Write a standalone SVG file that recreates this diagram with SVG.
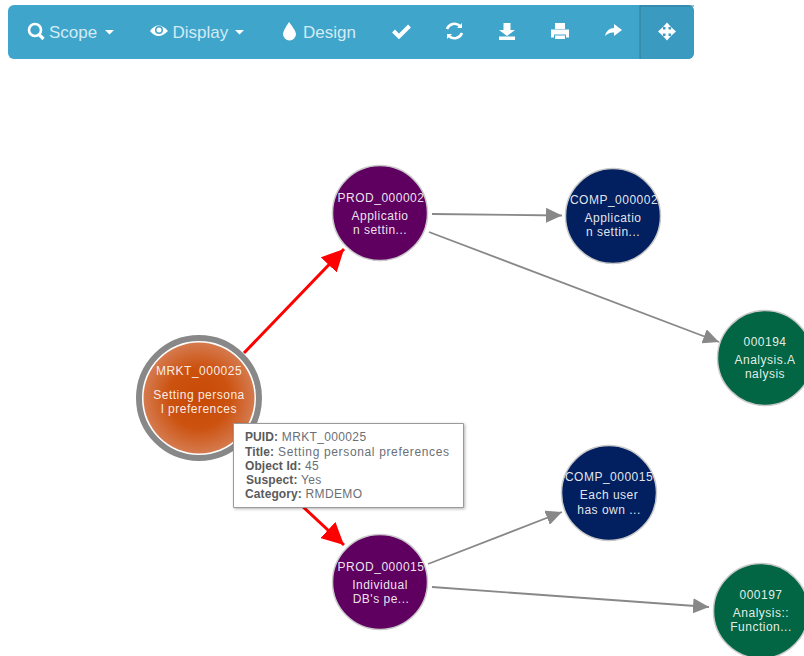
<svg xmlns="http://www.w3.org/2000/svg" width="804" height="656" viewBox="0 0 804 656">
<style>
text{font-family:"Liberation Sans",Arial,sans-serif}
.n text{fill:#fff;font-size:12px;letter-spacing:.5px;text-anchor:middle;fill-opacity:.9}
.n circle.c{stroke:#c9c9c9;stroke-width:1.5}
.t{fill:#d3ebf5;font-size:17px}
.i{fill:#fff}
.s{fill:none;stroke:#fff;stroke-width:2.6}
.g{fill:none;stroke:#888;stroke-width:1.8}
.r{fill:none;stroke:#f00;stroke-width:3}
.tip text{font-size:12px;fill:#6b6f76;letter-spacing:.35px}
.tip tspan{font-weight:bold;fill:#5a5a5a;letter-spacing:.1px}
</style>
<defs>
<radialGradient id="og"><stop offset="0" stop-color="#c84a04"/><stop offset=".55" stop-color="#cc5210"/><stop offset="1" stop-color="#d57a4e"/></radialGradient>
<marker id="ga" markerUnits="userSpaceOnUse" markerWidth="17" markerHeight="15" refX="16" refY="7.500" orient="auto"><path d="M0 0L16 7.500L0 15L0 0Z" fill="#888"/></marker>
<marker id="ra" markerUnits="userSpaceOnUse" markerWidth="23" markerHeight="22" refX="22" refY="11" orient="auto"><path d="M0 0L22 11L0 22L0 0Z" fill="#f00"/></marker>
<filter id="sh" x="-5%" y="-5%" width="112%" height="115%"><feDropShadow dx="1" dy="1" stdDeviation="1.500" flood-color="#000" flood-opacity=".3"/></filter>
<clipPath id="ab"><rect x="8" y="5" width="686" height="54" rx="6"/></clipPath>
</defs>
<g id="toolbar">
<rect x="8" y="5" width="686" height="54" rx="6" fill="#3fa5cb"/>
<rect x="640" y="5" width="54" height="54" fill="#3b9abf" clip-path="url(#ab)"/>
<path d="M640 5V59" stroke="#33809e" stroke-width="1.500" opacity=".7"/>
<path d="M640 6H694" stroke="#33809e" stroke-width="2" opacity=".5"/>
<g id="btn-scope"><circle cx="35" cy="30" r="6" class="s"/><path d="M39 34.500L43.500 39" stroke="#fff" stroke-width="3.200" fill="none"/><text class="t" x="49" y="38">Scope</text><path d="M105 30h9l-4.500 4.500z" class="i"/></g>
<g id="btn-display"><path d="M150 31Q158 20 168 31Q158 41 150 31Z" class="i"/><circle cx="159" cy="30" r="4" fill="#3fa5cb"/><circle cx="159" cy="30" r="2.500" class="i"/><text class="t" x="172.500" y="38">Display</text><path d="M235 30h9l-4.500 4.500z" class="i"/></g>
<g id="btn-design"><path d="M289 22Q283 31 283 34A6 6 0 0 0 296 34Q296 31 289 22Z" class="i"/><text class="t" x="303" y="38">Design</text></g>
<g id="btn-check"><path d="M393.500 31L399 36.500L409.500 26" fill="none" stroke="#fff" stroke-width="4"/></g>
<g id="btn-refresh"><path d="M447 29A8 8 0 0 1 460 26M462 33A8 8 0 0 1 449 36" class="s"/><path d="M457 28l5-5v5zM452 34l-5 5v-5z" class="i"/></g>
<g id="btn-download"><path d="M503.500 23h7v7h4.500l-8 6-8-6h4.500zM499 36.500h16v3.500h-16z" class="i"/></g>
<g id="btn-print"><path d="M555 23h10v6h-10zM551 29.500h18v8h-3v-3h-12v3h-3zM555 35.500h10v3.500h-10z" class="i"/></g>
<g id="btn-share"><path d="M605 36Q607 28 614 28V24L622 30L614 36V32.500Q609 32 605 36Z" class="i"/></g>
<g id="btn-move"><path d="M667 22.500l4 4.500h-2.500v2.500h2.500v-2.500l5 4.500-5 4.500v-2.500h-2.500v2.500h2.500l-4 4.500-4-4.500h2.500v-2.500h-2.500v2.500l-5-4.500 5-4.500v2.500h2.500v-2.500h-2.500z" class="i"/></g>
</g>
<g id="connectors">
<path class="r" d="M244 353L344 249" marker-end="url(#ra)"/>
<path class="r" d="M300 504L344 545" marker-end="url(#ra)"/>
<path class="g" d="M432 214L562 215.500" marker-end="url(#ga)"/>
<path class="g" d="M429 232L719 342" marker-end="url(#ga)"/>
<path class="g" d="M428 564L562 512" marker-end="url(#ga)"/>
<path class="g" d="M432 587L709 607" marker-end="url(#ga)"/>
</g>
<g id="PROD_000002" class="n"><circle class="c" cx="380" cy="213" r="47.500" fill="#5f0061"/><text x="381" y="202">PROD_000002</text><text x="380" y="220">Applicatio</text><text x="380" y="234">n settin...</text></g>
<g id="COMP_000002" class="n"><circle class="c" cx="613" cy="216" r="47.500" fill="#02205f"/><text x="614" y="204">COMP_000002</text><text x="613" y="222">Applicatio</text><text x="613" y="236">n settin...</text></g>
<g id="MRKT_000025" class="n"><circle cx="199" cy="398" r="60" fill="#fff" stroke="#888" stroke-width="6"/><circle cx="199" cy="398" r="55.500" fill="url(#og)"/><text x="199" y="375">MRKT_000025</text><text x="199" y="399">Setting persona</text><text x="199" y="413">l preferences</text></g>
<g id="n000194" class="n"><circle class="c" cx="765" cy="358" r="47.500" fill="#026644"/><text x="765" y="346">000194</text><text x="765" y="364">Analysis.A</text><text x="765" y="378">nalysis</text></g>
<g id="COMP_000015" class="n"><circle class="c" cx="609" cy="493" r="47.500" fill="#02205f"/><text x="609" y="481">COMP_000015</text><text x="609" y="499">Each user</text><text x="609" y="514">has own ...</text></g>
<g id="PROD_000015" class="n"><circle class="c" cx="380" cy="582" r="47.500" fill="#5f0061"/><text x="381" y="571">PROD_000015</text><text x="380" y="589">Individual</text><text x="381" y="603">DB's pe...</text></g>
<g id="n000197" class="n"><circle class="c" cx="761" cy="611" r="47.500" fill="#026644"/><text x="761" y="599">000197</text><text x="761" y="617">Analysis::</text><text x="761" y="631">Function...</text></g>
<g id="tooltip" class="tip">
<path d="M233.500 423.500H463.500V507.500H233.500Z" fill="#fff" stroke="#9a9a9a" filter="url(#sh)"/>
<text x="245" y="441"><tspan>PUID:</tspan> MRKT_000025</text>
<text x="245" y="456" style="letter-spacing:.65px"><tspan>Title:</tspan> Setting personal preferences</text>
<text x="245" y="470"><tspan>Object Id:</tspan> 45</text>
<text x="246" y="484"><tspan>Suspect:</tspan> Yes</text>
<text x="245" y="498"><tspan>Category:</tspan> RMDEMO</text>
</g>
</svg>
